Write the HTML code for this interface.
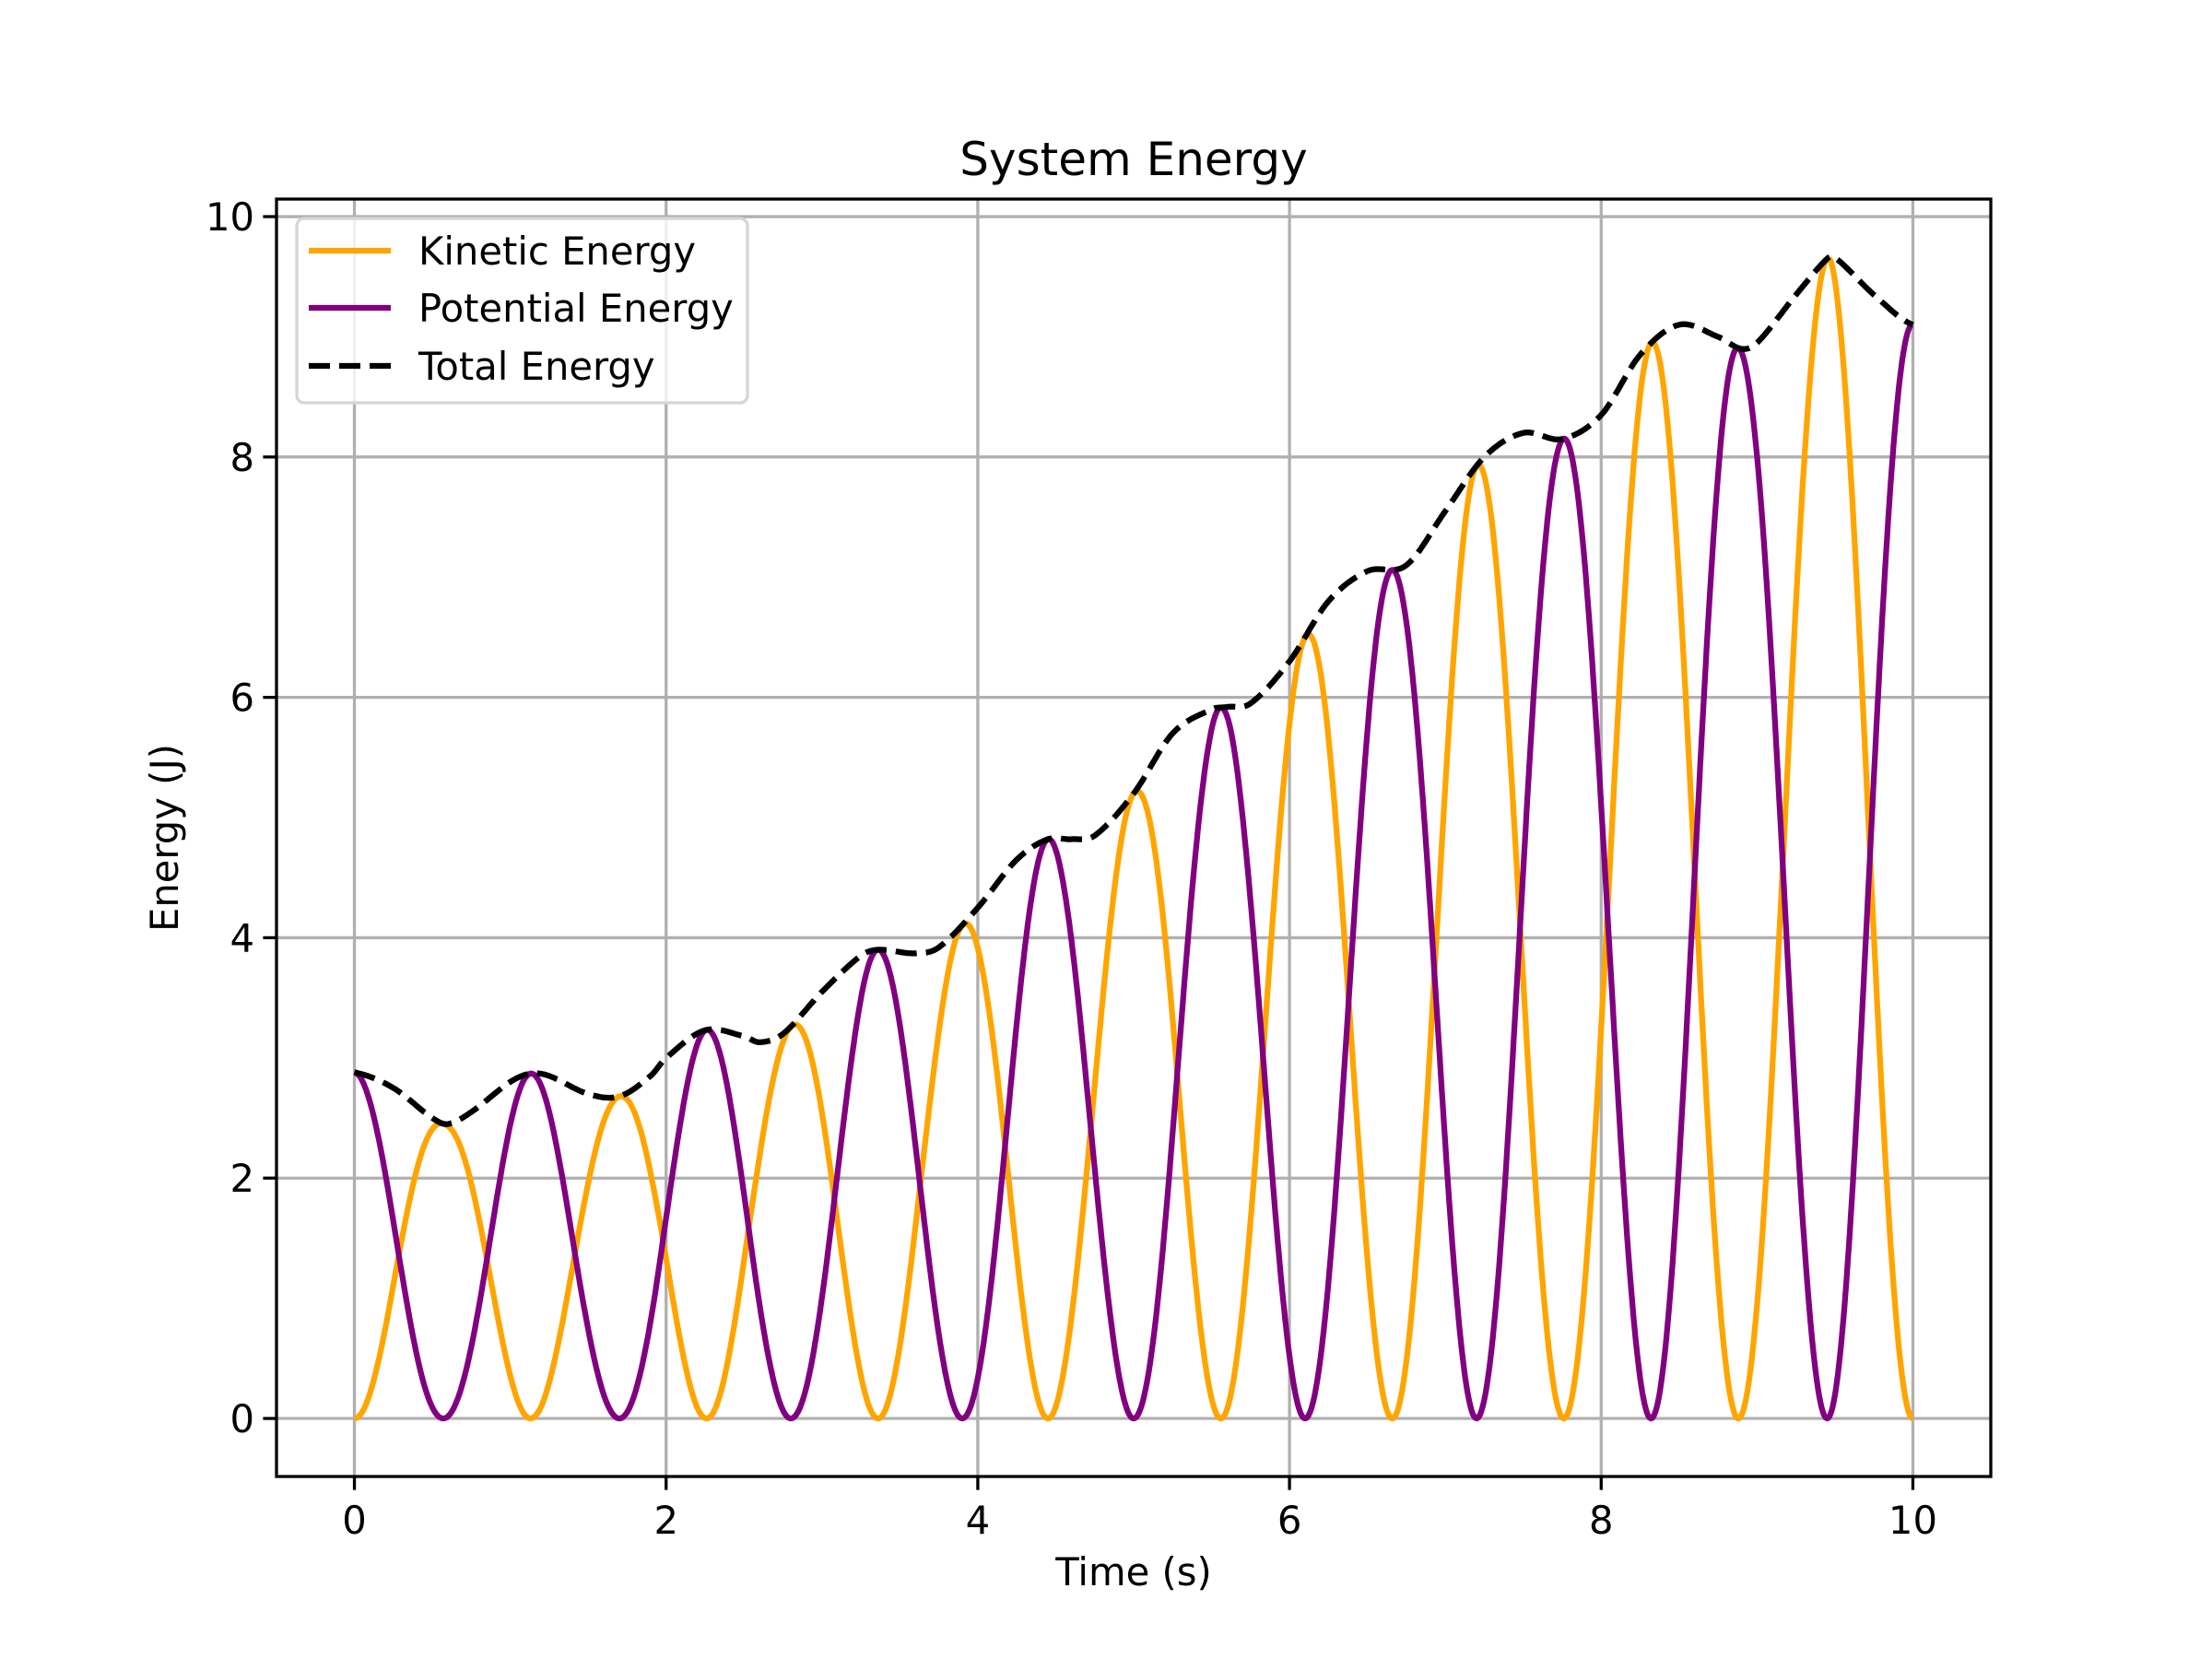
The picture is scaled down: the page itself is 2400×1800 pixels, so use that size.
<!DOCTYPE html>
<html><head><meta charset="utf-8"><style>
html,body{margin:0;padding:0;background:#fff;}
svg{display:block;font-family:"DejaVu Sans","Liberation Sans",sans-serif;}
</style></head><body>
<svg id="chart" width="2400" height="1800" viewBox="0 0 2400 1800" xmlns="http://www.w3.org/2000/svg">
<rect width="2400" height="1800" fill="#fff"/>
<text x="1230" y="190" font-size="50" text-anchor="middle">System Energy</text>
<g id="grid"></g>
<g id="series"></g>
<rect x="300" y="216" width="1860" height="1386" fill="none" stroke="#000" stroke-width="3.3"/>
<g id="ticks"></g>
<text x="1230" y="1720" font-size="41.7" text-anchor="middle">Time (s)</text>
<text transform="translate(193,909) rotate(-90)" font-size="41.7" text-anchor="middle">Energy (J)</text>
<g>
<rect x="322" y="237" width="489" height="200" rx="8" fill="#fff" fill-opacity="0.8" stroke="#d5d5d5" stroke-width="3.3"/>
<line x1="335" y1="272" x2="424" y2="272" stroke="orange" stroke-width="6.25"/>
<text x="454" y="287" font-size="41.7">Kinetic Energy</text>
<line x1="335" y1="334" x2="424" y2="334" stroke="purple" stroke-width="6.25"/>
<text x="454" y="349" font-size="41.7">Potential Energy</text>
<line x1="335" y1="397" x2="424" y2="397" stroke="#000" stroke-width="6.25" stroke-dasharray="23,10"/>
<text x="454" y="412" font-size="41.7">Total Energy</text>
</g>
</svg>
<script>
// Times of alternating lobe peaks (even index: potential peak, odd: kinetic peak)
const peakTimes = [0,0.57,1.13,1.70,2.26,2.80,3.36,3.90,4.45,5.00,5.56,6.10,6.66,7.20,7.76,8.32,8.88,9.45,10.0];
// Total energy samples
const totalTimes = [0,0.25,0.5,0.6,0.75,1.0,1.13,1.25,1.5,1.7,1.9,2.0,2.25,2.5,2.6,2.75,3.0,3.25,3.36,3.6,3.75,4.0,4.25,4.45,4.6,4.75,5.0,5.25,5.5,5.6,5.75,6.0,6.25,6.5,6.75,7.0,7.25,7.5,7.75,8.0,8.25,8.5,8.75,8.9,9.0,9.25,9.45,9.5,9.75,10.0];
const totalValues = [2.88,2.75,2.5,2.45,2.55,2.8,2.87,2.85,2.7,2.68,2.85,3.0,3.23,3.18,3.13,3.2,3.55,3.85,3.9,3.87,3.92,4.25,4.65,4.82,4.82,4.85,5.2,5.7,5.9,5.92,5.95,6.3,6.8,7.05,7.1,7.55,8.0,8.2,8.15,8.35,8.85,9.1,9.0,8.9,8.95,9.35,9.65,9.66,9.35,9.1];
const xTicks = [0,2,4,6,8,10];
const yTicks = [0,2,4,6,8,10];
const xLim = [-0.5,10.5], yLim = [-0.483,10.146];
const L=300,R=2160,T=216,B=1602;
const NS="http://www.w3.org/2000/svg";
function xs(v){return L+(v-xLim[0])/(xLim[1]-xLim[0])*(R-L);}
function ys(v){return B-(v-yLim[0])/(yLim[1]-yLim[0])*(B-T);}
function mk(tag,attrs,parent){const e=document.createElementNS(NS,tag);for(const k in attrs)e.setAttribute(k,attrs[k]);parent.appendChild(e);return e;}
const grid=document.getElementById('grid'),ticks=document.getElementById('ticks'),series=document.getElementById('series');
xTicks.forEach(v=>{
  const g=mk('line',{x1:xs(v),x2:xs(v),y1:T,y2:B,stroke:'#b0b0b0','stroke-width':3.3},grid);
  
  
  const t=mk('line',{x1:xs(v),x2:xs(v),y1:B,y2:B+14.6,stroke:'#000','stroke-width':3.3},ticks);
  
  
  const l=mk('text',{x:xs(v),y:B+62,'font-size':41.7,'text-anchor':'middle'},ticks);
  l.textContent=v;
  
  
});
yTicks.forEach(v=>{
  const g=mk('line',{x1:L,x2:R,y1:ys(v),y2:ys(v),stroke:'#b0b0b0','stroke-width':3.3},grid);
  
  
  const t=mk('line',{x1:L-14.6,x2:L,y1:ys(v),y2:ys(v),stroke:'#000','stroke-width':3.3},ticks);
  
  
  const l=mk('text',{x:L-24,y:ys(v)+15,'font-size':41.7,'text-anchor':'end'},ticks);
  l.textContent=v;
  
  
});
// Smooth (Catmull-Rom) interpolation of total samples
function totalAt(t){
  const n=totalTimes.length;
  let i=0; while(i<n-2 && totalTimes[i+1]<t) i++;
  const t1=totalTimes[i],t2=totalTimes[i+1];
  const p1=totalValues[i],p2=totalValues[i+1];
  const p0=i>0?totalValues[i-1]:p1, p3=i+2<n?totalValues[i+2]:p2;
  const t0=i>0?totalTimes[i-1]:t1-(t2-t1), t3=i+2<n?totalTimes[i+2]:t2+(t2-t1);
  const m1=(p2-p0)/(t2-t0)*(t2-t1), m2=(p3-p1)/(t3-t1)*(t2-t1);
  const s=(t-t1)/(t2-t1), s2=s*s, s3=s2*s;
  return (2*s3-3*s2+1)*p1+(s3-2*s2+s)*m1+(-2*s3+3*s2)*p2+(s3-s2)*m2;
}
const ke=[],pe=[],tot=[];
for(let i=0;i<peakTimes.length-1;i++){
  const t0=peakTimes[i],t1=peakTimes[i+1];
  const n=80;
  for(let j=(i===0?0:1);j<=n;j++){
    const s=j/n,t=t0+(t1-t0)*s;
    const E=totalAt(t);
    const c=Math.cos(Math.PI*s/2)**2;
    const p=(i%2===0)?E*c:E*(1-c), k=E-p;
    pe.push([xs(t),ys(p)]);ke.push([xs(t),ys(k)]);tot.push([xs(t),ys(E)]);
  }
}
function pathD(pts){return pts.map((p,i)=>(i?'L':'M')+p[0].toFixed(1)+','+p[1].toFixed(1)).join('');}
const pk=mk('path',{d:pathD(ke),fill:'none',stroke:'orange','stroke-width':6.25,'stroke-linejoin':'round'},series);


const pp=mk('path',{d:pathD(pe),fill:'none',stroke:'purple','stroke-width':6.25,'stroke-linejoin':'round'},series);


const pt=mk('path',{d:pathD(tot),fill:'none',stroke:'#000','stroke-width':6.25,'stroke-dasharray':'23,10'},series);


</script>
</body></html>
